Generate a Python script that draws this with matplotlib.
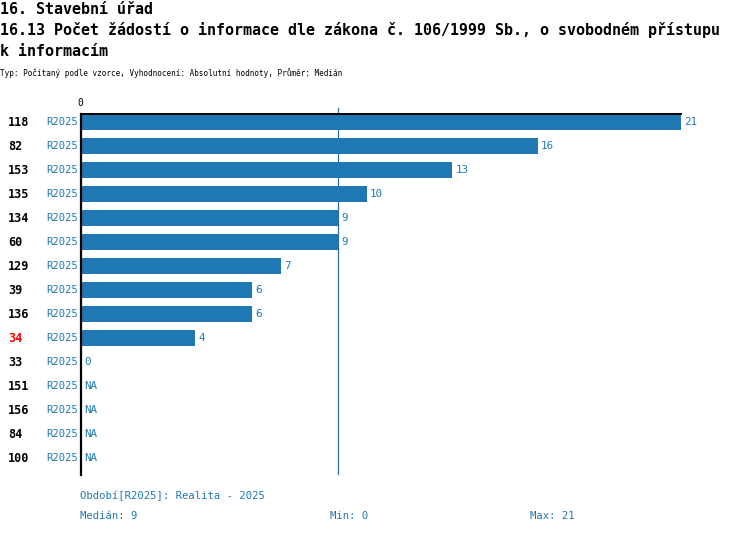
import numpy as np
import matplotlib
matplotlib.use("Agg")
import matplotlib.pyplot as plt
from matplotlib.transforms import offset_copy

# data
ids = ["118", "82", "153", "135", "134", "60", "129", "39", "136", "34", "33", "151", "156", "84", "100"]
values = [21, 16, 13, 10, 9, 9, 7, 6, 6, 4, 0, None, None, None, None]
period = "R2025"
highlight = "34"
median_val = 9
min_val = 0
max_val = 21

blue = "#1f77b4"
mono = "DejaVu Sans Mono"
W, H = 750, 534

fig = plt.figure(figsize=(W / 100, H / 100), dpi=100)

def fx(px):
    return px / W

def fy(py):
    return 1 - py / H

# axes spans x 81..681 px, y 114..475 px
ax = fig.add_axes([fx(81), fy(475), fx(681) - fx(81), fy(114) - fy(475)])
n = len(ids)
ax.set_xlim(0, max_val)
ax.set_ylim((475 - 122) / 24, -(122 - 114) / 24)

ypos = np.arange(n)
bar_vals = [v if v is not None else 0 for v in values]
ax.barh(ypos, bar_vals, height=16 / 24, color=blue, zorder=2)

ax.axvline(median_val, color="#2a6fa6", lw=0.9, zorder=1)
# small extension of median line above the top spine
ax.plot([median_val, median_val], [-(122 - 108) / 24, -(122 - 114) / 24], color="#2a6fa6", lw=0.9,
        clip_on=False, zorder=1)

for s in ["right", "bottom"]:
    ax.spines[s].set_visible(False)
ax.spines["left"].set_linewidth(1.6)
ax.spines["top"].set_linewidth(1.4)
ax.set_xticks([])
ax.set_yticks([])

for i, (lab, v) in enumerate(zip(ids, values)):
    txt = "NA" if v is None else str(v)
    xv = 0 if v is None else v
    ax.text(xv, i, txt, transform=offset_copy(ax.transData, fig=fig, x=3, y=0, units="dots"),
            ha="left", va="center", fontsize=7.8, family=mono, color=blue)
    fig.text(fx(8), fy(122 + 24 * i), lab, ha="left", va="center", fontsize=8.5,
             family=mono, weight="bold", color="red" if lab == highlight else "black")
    fig.text(fx(78), fy(122 + 24 * i), period, ha="right", va="center", fontsize=7.6,
             family=mono, color=blue)

fig.text(fx(80), fy(103), "0", ha="center", va="center", fontsize=7, family=mono)

# titles
tsize = 10.8
fig.text(fx(0), fy(9), "16. Stavební úřad", ha="left", va="center", fontsize=tsize,
         family=mono, weight="bold")
fig.text(fx(0), fy(30), "16.13 Počet žádostí o informace dle zákona č. 106/1999 Sb., o svobodném přístupu",
         ha="left", va="center", fontsize=tsize, family=mono, weight="bold")
fig.text(fx(0), fy(51), "k informacím", ha="left", va="center", fontsize=tsize,
         family=mono, weight="bold")
fig.text(fx(0), fy(73), "Typ: Počítaný podle vzorce, Vyhodnocení: Absolutní hodnoty, Průměr: Medián",
         ha="left", va="center", fontsize=5.5, family=mono)

# footer
fig.text(fx(80), fy(496), "Období[R2025]: Realita - 2025", ha="left", va="center",
         fontsize=7.6, family=mono, color=blue)
fig.text(fx(80), fy(516), f"Medián: {median_val}", ha="left", va="center",
         fontsize=7.6, family=mono, color=blue)
fig.text(fx(330), fy(516), f"Min: {min_val}", ha="left", va="center",
         fontsize=7.6, family=mono, color=blue)
fig.text(fx(530), fy(516), f"Max: {max_val}", ha="left", va="center",
         fontsize=7.6, family=mono, color=blue)

fig.savefig("out.png", dpi=100)
